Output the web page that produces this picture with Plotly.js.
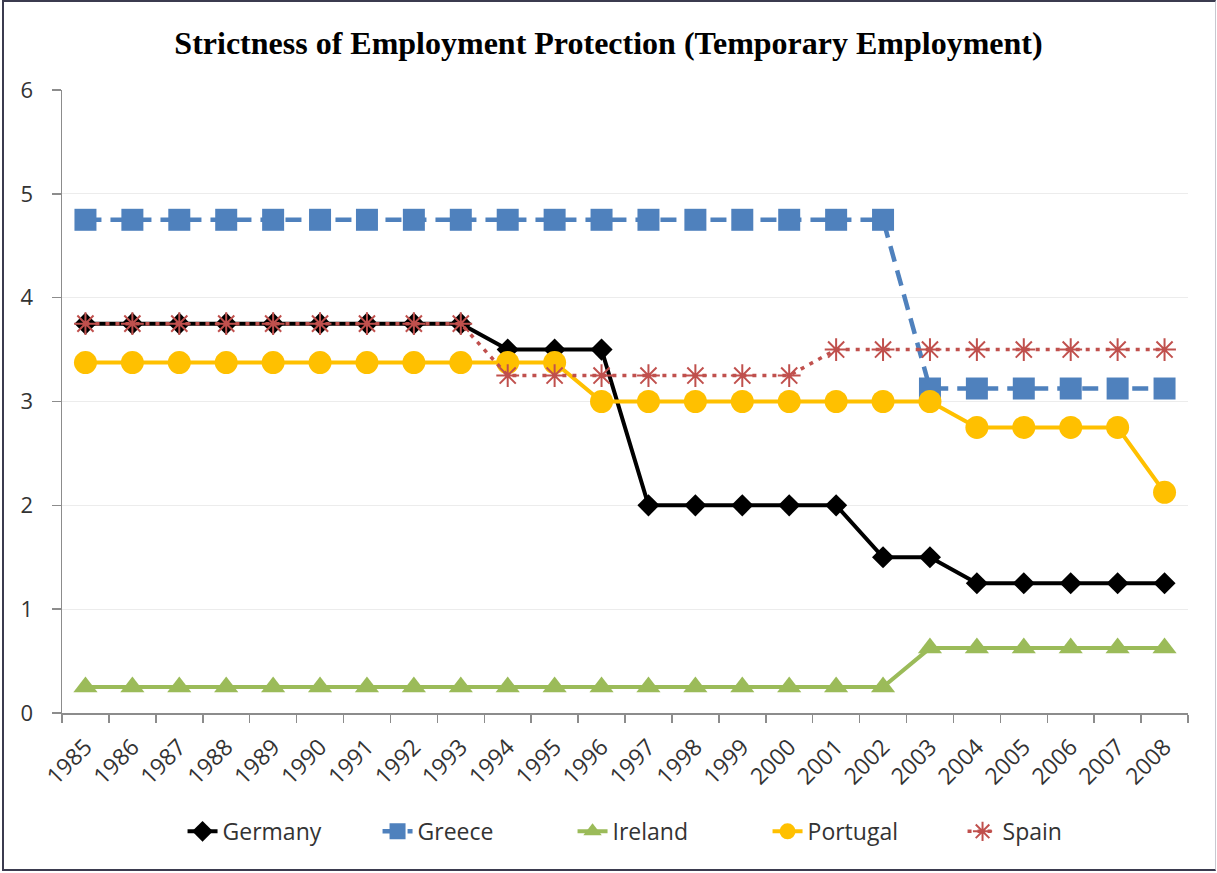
<!DOCTYPE html>
<html>
<head>
<meta charset="utf-8">
<script src="https://cdn.plot.ly/plotly-3.0.1.min.js"></script>
<style>
  html, body { margin: 0; padding: 0; background: #fff; }
  #wrap { position: relative; width: 1217px; height: 873px; }
  #chart { position: absolute; left: 0; top: 0; width: 1217px; height: 873px; }
  #frame { position: absolute; left: 2px; top: 0px; width: 1211px; height: 867px;
           border: 2px solid #3b3b4f; border-right: 1px solid #c8c8d0; pointer-events: none; }
</style>
</head>
<body>
<div id="wrap">
  <div id="chart"></div>
  <div id="frame"></div>
</div>
<script>
const years = ['1985','1986','1987','1988','1989','1990','1991','1992','1993','1994','1995','1996',
               '1997','1998','1999','2000','2001','2002','2003','2004','2005','2006','2007','2008'];

const germany  = [3.75,3.75,3.75,3.75,3.75,3.75,3.75,3.75,3.75,3.5,3.5,3.5,
                  2.0,2.0,2.0,2.0,2.0,1.5,1.5,1.25,1.25,1.25,1.25,1.25];
const greece   = [4.75,4.75,4.75,4.75,4.75,4.75,4.75,4.75,4.75,4.75,4.75,4.75,
                  4.75,4.75,4.75,4.75,4.75,4.75,3.125,3.125,3.125,3.125,3.125,3.125];
const ireland  = [0.25,0.25,0.25,0.25,0.25,0.25,0.25,0.25,0.25,0.25,0.25,0.25,
                  0.25,0.25,0.25,0.25,0.25,0.25,0.625,0.625,0.625,0.625,0.625,0.625];
const portugal = [3.375,3.375,3.375,3.375,3.375,3.375,3.375,3.375,3.375,3.375,3.375,3.0,
                  3.0,3.0,3.0,3.0,3.0,3.0,3.0,2.75,2.75,2.75,2.75,2.125];
const spain    = [3.75,3.75,3.75,3.75,3.75,3.75,3.75,3.75,3.75,3.25,3.25,3.25,
                  3.25,3.25,3.25,3.25,3.5,3.5,3.5,3.5,3.5,3.5,3.5,3.5];

const yTicks = [0,1,2,3,4,5,6];
const chartTitle = 'Strictness of Employment Protection (Temporary Employment)';

const traces = [
  { name: 'Germany', x: years, y: germany, type: 'scatter', mode: 'lines+markers',
    line: { color: '#000000', width: 4 },
    marker: { symbol: 'diamond', size: 17, color: '#000000' } },
  { name: 'Greece', x: years, y: greece, type: 'scatter', mode: 'lines+markers',
    line: { color: '#4F81BD', width: 4.5, dash: '16px,9px' },
    marker: { symbol: 'square', size: 22, color: '#4F81BD' } },
  { name: 'Ireland', x: years, y: ireland, type: 'scatter', mode: 'lines+markers',
    line: { color: '#9BBB59', width: 4 },
    marker: { symbol: 'triangle-up', size: 21, color: '#9BBB59' } },
  { name: 'Portugal', x: years, y: portugal, type: 'scatter', mode: 'lines+markers',
    line: { color: '#FFC000', width: 4 },
    marker: { symbol: 'circle', size: 23, color: '#FFC000' } },
  { name: 'Spain', x: years, y: spain, type: 'scatter', mode: 'lines+markers',
    line: { color: '#C0504D', width: 3.5, dash: '4px,6px' },
    marker: { symbol: 'asterisk-open', size: 19, color: '#C0504D', line: { color: '#C0504D', width: 2 } } }
];

const layout = {
  width: 1217, height: 873,
  paper_bgcolor: '#ffffff', plot_bgcolor: '#ffffff',
  margin: { l: 62, r: 29, t: 90, b: 160 },
  title: { text: chartTitle, x: 0.5, xref: 'container', xanchor: 'center',
           y: 0.951, yref: 'container', yanchor: 'middle',
           font: { family: 'Liberation Serif, Times New Roman, serif', size: 32, color: '#000000', weight: 'bold' } },
  font: { family: 'Open Sans, sans-serif', color: '#333333' },
  showlegend: true,
  legend: { orientation: 'h', x: 0.54, xanchor: 'center', y: -0.19, yanchor: 'middle',
            font: { size: 23, color: '#333333' }, entrywidth: 150, entrywidthmode: 'pixels',
            traceorder: 'normal', bgcolor: 'rgba(0,0,0,0)' },
  xaxis: { type: 'category', categoryorder: 'array', categoryarray: years,
           range: [-0.5, years.length - 0.5], showgrid: false, zeroline: false,
           showline: true, linecolor: '#8c8c8c', linewidth: 1.5,
           ticks: 'outside', tickson: 'boundaries', ticklen: 8, tickcolor: '#8c8c8c', tickwidth: 1.5,
           tickangle: -45, tickfont: { size: 23, color: '#333333' }, ticklabelstandoff: 10 },
  yaxis: { range: [0, 6], tickvals: yTicks, showgrid: true, gridcolor: '#ececec', gridwidth: 1,
           zeroline: false, showline: true, linecolor: '#8c8c8c', linewidth: 1.5,
           ticks: 'outside', ticklen: 9, tickcolor: '#8c8c8c', tickwidth: 1.5,
           tickfont: { size: 22, color: '#333333' }, ticklabelstandoff: 14 }
};

Plotly.newPlot('chart', traces, layout, { displayModeBar: false, staticPlot: true });
</script>
</body>
</html>
